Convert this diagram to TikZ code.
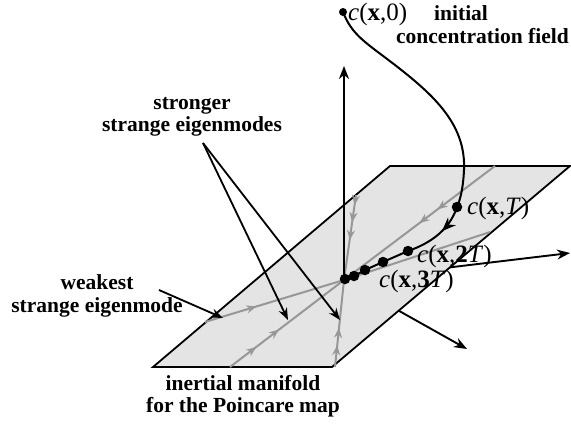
\documentclass[tikz,border=0pt]{standalone}
\usepackage{fontspec}
\setmainfont{Liberation Serif}
\usetikzlibrary{arrows.meta,decorations.markings}
\definecolor{planefill}{HTML}{E4E4E4}
\definecolor{flowgray}{HTML}{979797}

\begin{document}
\begin{tikzpicture}[
  x=1pt, y=-1pt,
  axis/.style={-{Stealth[length=13pt,width=10pt]}, line width=1.9pt},
  pointer/.style={-{Stealth[length=12pt,width=9pt]}, line width=1.8pt},
  flow/.style={draw=flowgray, line width=2pt},
  heads/.style={postaction={decorate, decoration={markings,
    mark=at position #1 with {\arrow[flowgray]{Stealth[length=10pt,width=8pt]}}}}},
  traj/.style={line width=2pt},
  dot/.style={circle, fill=black, inner sep=0pt, minimum size=10.5pt},
  lbl/.style={font=\fontsize{21.5}{22.5}\selectfont\bfseries, align=center, inner sep=0pt},
  state/.style={font=\fontsize{25}{25}\selectfont, anchor=west, inner sep=0pt},
]
  \useasboundingbox (0,0) rectangle (571,424);

  \coordinate (o) at (344,280);
  \coordinate (p1) at (153,367);
  \coordinate (p2) at (332,367);
  \coordinate (p3) at (570,166);
  \coordinate (p4) at (390,166);
  \coordinate (xend) at (570,253);
  \coordinate (yend) at (467,349);
  \coordinate (zend) at (344,66);

  \draw[axis] (o) -- (xend);
  \draw[axis] (o) -- (yend);
  \draw[fill=planefill, line width=1.8pt, line join=miter] (p1) -- (p2) -- (p3) -- (p4) -- cycle;

  \coordinate (sa) at (495,166);
  \coordinate (sb) at (230,367);
  \coordinate (ta) at (356,195);
  \coordinate (tb) at (335,367);
  \coordinate (wa) at (205,322);
  \coordinate (wb) at (490,232);
  \draw[flow, heads/.list={0.38,0.5}] (sa) -- (o);
  \draw[flow, heads/.list={0.23,0.43}] (sb) -- (o);
  \draw[flow, heads/.list={0.12,0.32,0.53}] (ta) -- (o);
  \draw[flow, heads/.list={0.25,0.45}] (tb) -- (o);
  \draw[flow, heads=0.37] (wa) -- (o);
  \draw[flow] (wb) -- (o);

  \draw[axis] (o) -- (zend);

  \node[dot, minimum size=8pt] (c0) at (343,12) {};
  \node[dot] (cT) at (457,207) {};
  \node[dot] (c2T) at (408,251) {};
  \node[dot] (c3T) at (383,262) {};
  \node[dot] (c4T) at (365,270) {};
  \node[dot] (c5T) at (354,276) {};
  \node[dot] (c6T) at (345,279) {};

  \draw[traj] (c0.center) .. controls (352,35) and (365,42) .. (395,65)
    .. controls (435,96) and (466,125) .. (464,170)
    .. controls (463,190) and (460,200) .. (cT.center);
  \draw[traj, postaction={decorate, decoration={markings,
    mark=at position 0.42 with {\arrow{Stealth[length=14pt,width=11pt]}}}}]
    (cT.center) .. controls (452,222) and (440,240) .. (c2T.center);
  \draw[traj] (c2T.center) -- (c3T.center) -- (c4T.center) -- (c5T.center) -- (c6T.center);

  \node[state] (lab0) at (348,14) {\textit{c}(\textbf{x},0)};
  \node[lbl, align=left, anchor=west] (initlab) at (396,24.5) {\hspace*{38pt}initial\\concentration field};
  \node[state] (labT) at (467,208) {\textit{c}(\textbf{x},\textit{T})};
  \node[state] (lab2T) at (417,256) {\textit{c}(\textbf{x},\textbf{2}\textit{T})};
  \node[state] (lab3T) at (379,281) {\textit{c}(\textbf{x},\textbf{3}\textit{T})};

  \node[lbl] (stronglab) at (192,117) {stronger\\strange eigenmodes};
  \node[lbl] (weaklab) at (97,296) {weakest\\strange eigenmode};
  \node[lbl] (planelab) at (243,396) {inertial manifold\\for the Poincare map};

  \coordinate (strongfoot) at (203,143);
  \coordinate (strongtip) at (288,320);
  \coordinate (strongtip2) at (340,320);
  \coordinate (weakfoot) at (159,290);
  \coordinate (weaktip) at (223,318);
  \draw[pointer] (strongfoot) -- (strongtip);
  \draw[pointer] (strongfoot) -- (strongtip2);
  \draw[pointer] (weakfoot) -- (weaktip);
\end{tikzpicture}
\end{document}
